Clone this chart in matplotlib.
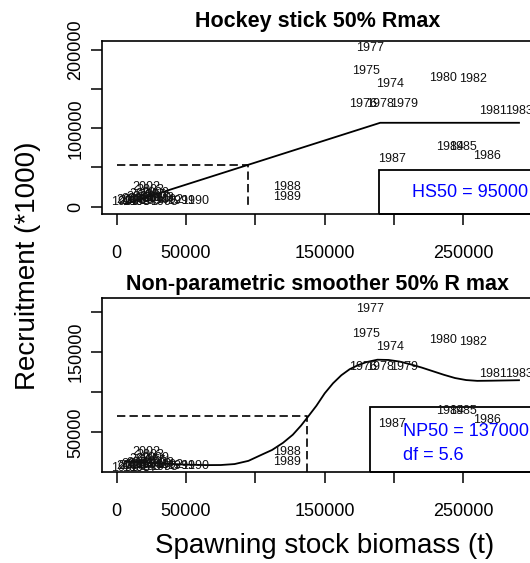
import matplotlib

matplotlib.use("Agg")
import matplotlib.pyplot as plt
from matplotlib.patches import Rectangle

plt.rcParams["font.family"] = ["Liberation Sans", "DejaVu Sans"]

# stock-recruitment data, labelled by year
years = [1974, 1975, 1976, 1977, 1978, 1979, 1980, 1981, 1982, 1983,
         1984, 1985, 1986, 1987, 1988, 1989, 1990, 1991, 1992, 1993,
         1994, 1995, 1996, 1997, 1998, 1999, 2000, 2001, 2002, 2003,
         2004, 2005, 2006, 2007, 2008, 2009, 2010]
ssb = [197000, 180000, 177800, 183000, 190000, 207500, 235500, 271400, 256700, 290100,
       240300, 249700, 266900, 198300, 122600, 122600, 56500, 46500, 38000, 31000,
       27000, 34000, 23000, 19000, 14000, 6000, 11000, 17000, 21000, 24000,
       19000, 25500, 13500, 9500, 16500, 28000, 29500]
recruits = [156700, 172500, 131300, 203000, 131300, 131300, 164700, 122300, 162600, 122300,
            76000, 76000, 65200, 60400, 25500, 12700, 7500, 7500, 9000, 11500,
            7000, 6500, 9500, 6000, 5500, 6000, 7500, 12000, 25000, 21500,
            16500, 14500, 10000, 8500, 9000, 18000, 11000]

# hockey stick fit (vertices) and its 50% Rmax point
hs_x = [6000, 190000, 290100]
hs_y = [3400, 107000, 107000]
hs50 = 95000
hs_half = 53500

# non-parametric smoother curve and its 50% Rmax point
np_x = [6000, 20000, 35000, 50000, 65000, 75000, 85000, 95000, 105000, 112000,
        120000, 127000, 133000, 138000, 144000, 150000, 156000, 162000, 168000, 174000,
        180000, 188000, 196000, 204000, 212000, 220000, 228000, 236000, 244000, 252000,
        260000, 270000, 290100]
np_y = [14000, 12500, 11000, 9800, 9200, 9300, 10500, 14500, 22500, 28000,
        37000, 47000, 58500, 69500, 83000, 98500, 111000, 121000, 128500, 133500,
        137300, 140300, 140000, 138000, 134500, 130500, 126000, 121500, 117500, 115000,
        114000, 114200, 114800]
np50 = 137000
np_half = 70300
np_df = 5.6

fig = plt.figure(figsize=(5.3, 5.63), dpi=100)
ax1 = fig.add_axes([0.19245, 0.61936, 0.81321, 0.30782])
ax2 = fig.add_axes([0.19245, 0.16217, 0.81321, 0.30799])

dash = (0, (5, 2.5))


def year_labels(ax):
    for yr, s, r in zip(years, ssb, recruits):
        ax.text(s, r, str(yr), fontsize=9, ha="center", va="center", color="#111111")


def style(ax, yticks, ylabels, ylim):
    ax.set_xlim(-10600, 300200)
    ax.set_ylim(*ylim)
    ax.set_xticks([0, 50000, 100000, 150000, 200000, 250000])
    ax.set_xticklabels(["0", "50000", "", "150000", "", "250000"])
    ax.set_yticks(yticks)
    ax.set_yticklabels(ylabels, rotation=90, va="center")
    ax.tick_params(axis="x", length=8, width=1.1, labelsize=13, pad=14.4)
    ax.tick_params(axis="y", length=8, width=1.1, labelsize=13, pad=4.7)
    for sp in ax.spines.values():
        sp.set_linewidth(1.2)


# top panel: hockey stick
year_labels(ax1)
ax1.plot(hs_x, hs_y, color="black", lw=1.3)
ax1.plot([0, hs50, hs50], [hs_half, hs_half, 0], color="black", lw=1.2, linestyle=dash)
ax1.add_patch(Rectangle((0.643, 0.0), 0.357, 0.256, transform=ax1.transAxes,
                        fill=False, lw=1.3, edgecolor="black", clip_on=False))
ax1.text(0.7186, 0.125, f"HS50 = {hs50}", transform=ax1.transAxes, color="blue",
         fontsize=13, ha="left", va="center")
ax1.set_title("Hockey stick 50% Rmax", fontsize=15.5, fontweight="bold", pad=10)
style(ax1, [0, 50000, 100000, 150000, 200000], ["0", "", "100000", "", "200000"],
      (-9700, 211300))

# bottom panel: smoother
year_labels(ax2)
ax2.plot(np_x, np_y, color="black", lw=1.3)
ax2.plot([0, np50, np50], [np_half, np_half, 0], color="black", lw=1.2, linestyle=dash)
ax2.add_patch(Rectangle((0.622, 0.0), 0.378, 0.371, transform=ax2.transAxes,
                        fill=False, lw=1.3, edgecolor="black", clip_on=False))
ax2.text(0.699, 0.231, f"NP50 = {np50}", transform=ax2.transAxes, color="blue",
         fontsize=13, ha="left", va="center")
ax2.text(0.699, 0.096, f"df = {np_df}", transform=ax2.transAxes, color="blue",
         fontsize=13, ha="left", va="center")
ax2.set_title("Non-parametric smoother 50% R max", fontsize=15.5, fontweight="bold", pad=5.8)
style(ax2, [50000, 100000, 150000, 200000], ["50000", "", "150000", ""],
      (1000, 216700))

fig.text(28 / 530, 1 - 265.5 / 563, "Recruitment (*1000)", rotation=90,
         fontsize=20, ha="center", va="center")
fig.text(325 / 530, 1 - 553 / 563, "Spawning stock biomass (t)",
         fontsize=20, ha="center", va="baseline")

fig.savefig("out.png", dpi=100)
